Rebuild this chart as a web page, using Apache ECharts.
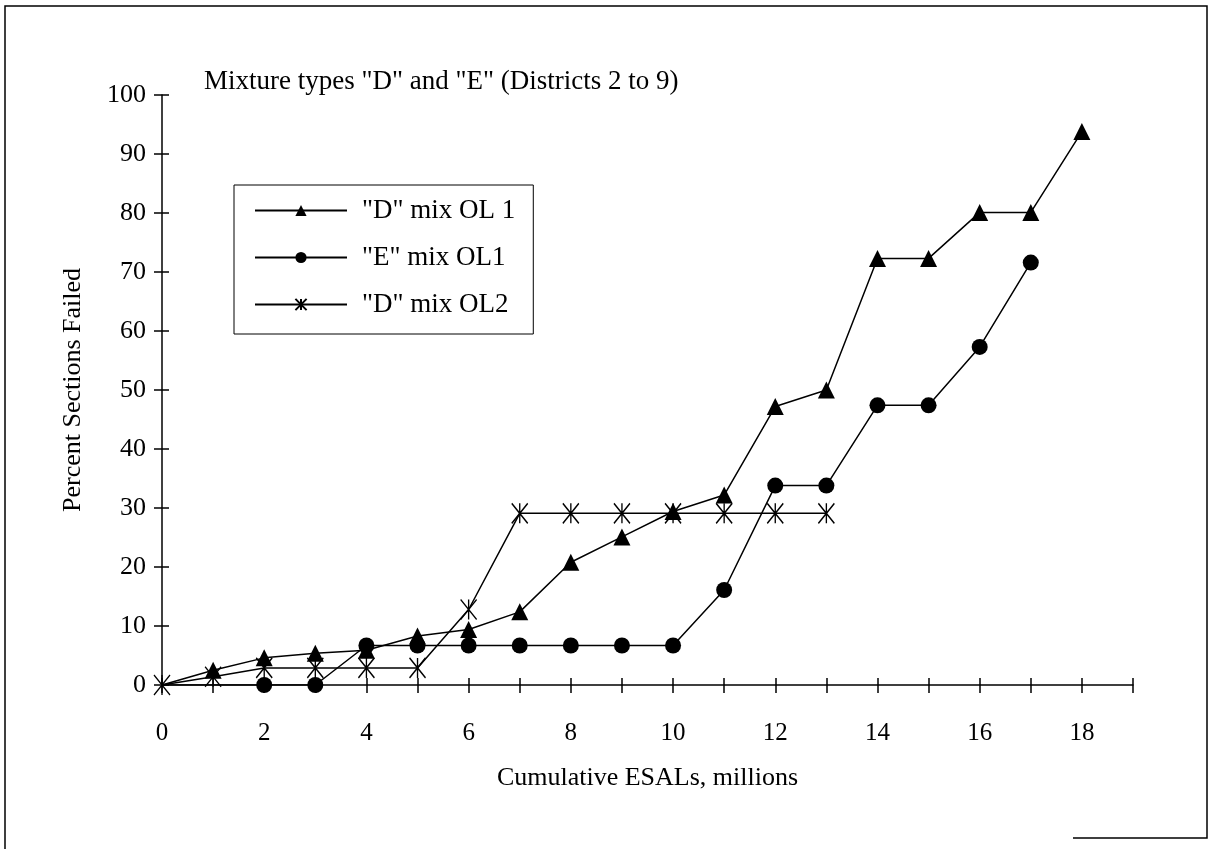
<!DOCTYPE html>
<html>
<head>
<meta charset="utf-8">
<script src="https://cdn.jsdelivr.net/npm/echarts@6/dist/echarts.min.js"></script>
<style>
html,body{margin:0;padding:0;background:#fff;}
#chart{width:1212px;height:849px;}
</style>
</head>
<body>
<div id="chart"></div>
<script>
// ---- data ----
var titleText = 'Mixture types "D" and "E" (Districts 2 to 9)';
var xAxisName = 'Cumulative ESALs, millions';
var yAxisName = 'Percent Sections Failed';
var seriesNames = ['"D" mix OL 1', '"E" mix OL1', '"D" mix OL2'];

var dOL1X = [0, 1, 2, 3, 4, 5, 6, 7, 8, 9, 10, 11, 12, 13, 14, 15, 16, 17, 18];
var dOL1Y = [0, 2.5, 4.6, 5.4, 5.9, 8.3, 9.4, 12.4, 20.8, 25.1, 29.4, 32.2, 47.2, 50.0, 72.3, 72.3, 80.1, 80.1, 93.8];

var eOL1X = [0, 2, 3, 4, 5, 6, 7, 8, 9, 10, 11, 12, 13, 14, 15, 16, 17];
var eOL1Y = [0, 0, 0, 6.7, 6.7, 6.7, 6.7, 6.7, 6.7, 6.7, 16.1, 33.8, 33.8, 47.4, 47.4, 57.3, 71.6];

var dOL2X = [0, 1, 2, 3, 4, 5, 6, 7, 8, 9, 10, 11, 12, 13];
var dOL2Y = [0, 1.4, 2.9, 2.9, 2.9, 2.9, 12.8, 29.1, 29.1, 29.1, 29.1, 29.1, 29.1, 29.1];

var xTickLabels = ['0', '2', '4', '6', '8', '10', '12', '14', '16', '18'];

// builds [x, y] items; optionally hides the marker at the origin
// (in the reference only the asterisk is visible at the origin)
function pairs(xs, ys, hideOrigin) {
  var out = [];
  for (var i = 0; i < xs.length; i++) {
    if (hideOrigin && xs[i] === 0) out.push({value: [xs[i], ys[i]], symbol: 'none'});
    else out.push([xs[i], ys[i]]);
  }
  return out;
}

var FONT = '"Liberation Serif", "Times New Roman", serif';
var asterisk = 'path://M0,0L16,20M16,0L0,20M8,0L8,20';

var chart = echarts.init(document.getElementById('chart'), null, {renderer: 'canvas'});

var option = {
  backgroundColor: '#fff',
  animation: false,
  textStyle: {fontFamily: FONT, color: '#000'},
  title: {
    text: titleText,
    left: 204,
    top: 68,
    padding: 0,
    textStyle: {fontFamily: FONT, fontSize: 27, fontWeight: 'normal', color: '#000'}
  },
  legend: {
    orient: 'vertical',
    left: 234,
    top: 185,
    padding: [12, 18, 16, 20],
    itemGap: 20,
    itemWidth: 92,
    itemHeight: 14,
    borderColor: '#000',
    borderWidth: 1,
    borderRadius: 0,
    backgroundColor: '#fff',
    textStyle: {fontFamily: FONT, fontSize: 27, color: '#000', padding: [0, 0, 0, 10]},
    data: seriesNames
  },
  grid: {left: 162, right: 79, top: 95, bottom: 164},
  xAxis: [{
    type: 'value',
    min: 0,
    max: 19,
    interval: 1,
    name: xAxisName,
    nameLocation: 'middle',
    nameGap: 80,
    nameTextStyle: {fontFamily: FONT, fontSize: 26, color: '#000'},
    axisLine: {show: true, lineStyle: {color: '#000', width: 1.5}},
    axisTick: {show: true, inside: false, length: 8, lineStyle: {color: '#000', width: 1.5}},
    axisLabel: {
      margin: 36,
      fontFamily: FONT,
      fontSize: 25,
      color: '#000',
      formatter: function (v) {
        var s = String(v);
        return xTickLabels.indexOf(s) >= 0 ? s : '';
      }
    },
    splitLine: {show: false}
  }, {
    type: 'value',
    min: 0,
    max: 19,
    interval: 1,
    position: 'bottom',
    axisLine: {show: false},
    axisTick: {show: true, inside: true, length: 7, lineStyle: {color: '#000', width: 1.5}},
    axisLabel: {show: false},
    splitLine: {show: false}
  }],
  yAxis: [{
    type: 'value',
    min: 0,
    max: 100,
    interval: 10,
    name: yAxisName,
    nameLocation: 'middle',
    nameGap: 76,
    nameTextStyle: {fontFamily: FONT, fontSize: 26, color: '#000'},
    axisLine: {show: true, lineStyle: {color: '#000', width: 1.5}},
    axisTick: {show: true, inside: false, length: 8, lineStyle: {color: '#000', width: 1.5}},
    axisLabel: {margin: 16, fontFamily: FONT, fontSize: 26, color: '#000'},
    splitLine: {show: false}
  }, {
    type: 'value',
    min: 0,
    max: 100,
    interval: 10,
    position: 'left',
    axisLine: {show: false},
    axisTick: {show: true, inside: true, length: 7, lineStyle: {color: '#000', width: 1.5}},
    axisLabel: {show: false},
    splitLine: {show: false}
  }],
  series: [{
    name: seriesNames[0],
    type: 'line',
    data: pairs(dOL1X, dOL1Y, true),
    symbol: 'triangle',
    symbolSize: 17,
    itemStyle: {color: '#000'},
    lineStyle: {color: '#000', width: 1.5},
    z: 3
  }, {
    name: seriesNames[1],
    type: 'line',
    data: pairs(eOL1X, eOL1Y, true),
    symbol: 'circle',
    symbolSize: 16,
    itemStyle: {color: '#000'},
    lineStyle: {color: '#000', width: 1.5},
    z: 3
  }, {
    name: seriesNames[2],
    type: 'line',
    data: pairs(dOL2X, dOL2Y, false),
    symbol: asterisk,
    symbolSize: [16, 20],
    itemStyle: {color: 'rgba(0,0,0,0)', borderColor: '#000', borderWidth: 1.5},
    lineStyle: {color: '#000', width: 1.5},
    z: 3
  }],
  graphic: [
    {type: 'polyline', silent: true, shape: {points: [[5, 849], [5, 6], [1207, 6], [1207, 838], [1073, 838]]},
     style: {stroke: '#000', lineWidth: 1.5, fill: null}}
  ]
};

chart.setOption(option);
</script>
</body>
</html>
